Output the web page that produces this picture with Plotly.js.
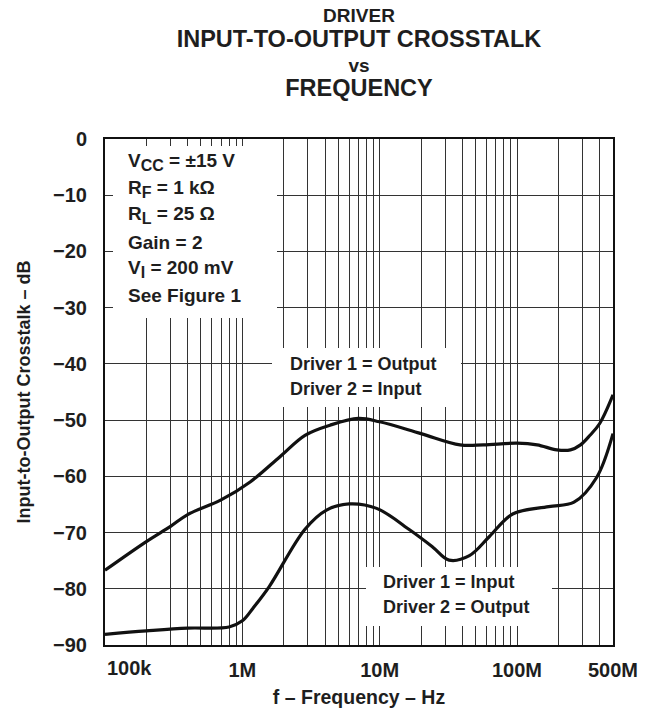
<!DOCTYPE html>
<html>
<head>
<meta charset="utf-8">
<script src="https://cdn.plot.ly/plotly-3.0.1.min.js"></script>
<style>html,body{margin:0;padding:0;background:#fff;}</style>
</head>
<body>
<div id="chart" style="width:650px;height:715px;"></div>
<script>
// ---- data ----
const freqUpper = [1e5, 2e5, 3e5, 4e5, 7e5, 1.14e6, 1.88e6, 2.86e6, 4.35e6, 7e6, 1e7, 2e7, 3.85e7, 5.7e7, 1e8, 1.4e8, 1.95e8, 2.45e8, 2.9e8, 3.4e8, 4e8, 5e8];
const upperDb = [-76.7, -71.6, -68.9, -66.8, -64.2, -61.0, -56.5, -52.7, -50.9, -49.7, -50.3, -52.4, -54.4, -54.4, -54.1, -54.4, -55.3, -55.3, -54.4, -52.7, -50.6, -45.5];

const freqLower = [1e5, 2e5, 4e5, 8e5, 1e6, 1.2e6, 1.57e6, 2.86e6, 4.1e6, 6e6, 9.5e6, 1.67e7, 2.44e7, 3.2e7, 4.5e7, 6.3e7, 9.3e7, 1.7e8, 2.6e8, 3.8e8, 5e8];
const lowerDb = [-88.1, -87.5, -87.0, -86.8, -85.7, -83.4, -79.6, -69.4, -66.0, -64.9, -65.7, -69.6, -72.6, -74.9, -74.1, -70.7, -66.7, -65.4, -64.6, -60.2, -52.4];

const xTickVals = [1e5, 1e6, 1e7, 1e8, 5e8];
const xTickText = ['100k', '1M', '10M', '100M', '500M'];
const yTickVals = [0, -10, -20, -30, -40, -50, -60, -70, -80, -90];

const SUB = s => '<sub><span style="font-size:16px">' + s + '</span></sub>';
const condLines = ['V' + SUB('CC') + ' = \u00B115 V', 'R' + SUB('F') + ' = 1 k\u03A9', 'R' + SUB('L') + ' = 25 \u03A9', 'Gain = 2', 'V' + SUB('I') + ' = 200 mV', 'See Figure 1'];
const label1Lines = ['Driver 1 = Output', 'Driver 2 = Input'];
const label2Lines = ['Driver 1 = Input', 'Driver 2 = Output'];

// ---- layout helpers ----
const FONT = 'Liberation Sans, Arial, Helvetica, sans-serif';
const INK = '#1e1e1e';
const L = 105, R = 613, T = 139, B = 645;
const px2x = p => (p - L) / (R - L);
const px2y = p => (B - p) / (B - T);

// minor grid positions (2..9 per decade)
const minorVals = [];
for (let d = 5; d <= 8; d++) for (let m = 2; m <= 9; m++) { const v = m * Math.pow(10, d); if (v < 5e8) minorVals.push(v); }

const gridColor = '#333';

const traces = [
  {x: freqUpper, y: upperDb, mode: 'lines', line: {color: '#111', width: 3.2, shape: 'spline', smoothing: 1}, hoverinfo: 'skip'},
  {x: freqLower, y: lowerDb, mode: 'lines', line: {color: '#111', width: 3.2, shape: 'spline', smoothing: 1}, hoverinfo: 'skip'}
];

const annotations = [];
// white masks behind the text blocks
const masks = [
  [113, 146, 277, 318],
  [272, 348, 461, 407],
  [366, 567, 552, 626]
];
masks.forEach(m => annotations.push({
  xref: 'paper', yref: 'paper', x: px2x(m[0]), y: px2y(m[1]),
  xanchor: 'left', yanchor: 'top', showarrow: false,
  text: ' ', width: m[2] - m[0], height: m[3] - m[1],
  bgcolor: '#ffffff', borderpad: 0, borderwidth: 0, font: {size: 2}
}));

function addBlock(lines, leftPx, firstCenterPx, spacing, size) {
  lines.forEach((t, i) => annotations.push({
    xref: 'paper', yref: 'paper', x: px2x(leftPx), y: px2y(firstCenterPx + i * spacing),
    xanchor: 'left', yanchor: 'middle', showarrow: false, align: 'left',
    text: t, font: {family: FONT, size: size, color: INK, weight: 700}
  }));
}
addBlock(condLines, 126, 162, 26.7, 19);
addBlock(label1Lines, 288, 364, 25, 18);
addBlock(label2Lines, 381, 582, 25, 18);

// first x tick label sits right of the axis start
annotations.push({
  xref: 'x', yref: 'paper', x: Math.log10(xTickVals[0]), y: px2y(668),
  xanchor: 'left', yanchor: 'middle', showarrow: false,
  text: xTickText[0], font: {family: FONT, size: 20, color: INK, weight: 700}
});
const shownTickText = xTickText.map((t, i) => i === 0 ? '' : t);

const layout = {
  width: 650, height: 715,
  margin: {l: L, r: 650 - R, t: T, b: 715 - B},
  paper_bgcolor: '#fff', plot_bgcolor: '#fff',
  showlegend: false,
  font: {family: FONT, color: INK, weight: 700},
  title: {
    text: 'DRIVER<br><span style="font-size:23.5px">INPUT-TO-OUTPUT CROSSTALK</span><br>vs<br><span style="font-size:23.5px">FREQUENCY</span>',
    font: {family: FONT, size: 19, color: INK, weight: 700},
    xref: 'paper', x: 0.5, xanchor: 'center',
    yref: 'container', y: 0.969, yanchor: 'top'
  },
  xaxis: {
    type: 'log', range: [5, Math.log10(5e8)],
    tickvals: xTickVals, ticktext: shownTickText, ticks: '',
    tickfont: {family: FONT, size: 20, color: INK, weight: 700},
    ticklabelstandoff: 6,
    showgrid: true, gridcolor: gridColor, gridwidth: 1,
    minor: {tickvals: minorVals, showgrid: true, gridcolor: gridColor, gridwidth: 1, ticks: ''},
    showline: true, mirror: true, linecolor: '#111', linewidth: 2,
    zeroline: false, fixedrange: true,
    title: {text: 'f \u2013 Frequency \u2013 Hz', font: {family: FONT, size: 19.5, color: INK, weight: 700}, standoff: 10}
  },
  yaxis: {
    range: [-90, 0], tickvals: yTickVals, ticks: '',
    tickfont: {family: FONT, size: 20, color: INK, weight: 700},
    ticklabelstandoff: 12,
    showgrid: true, gridcolor: gridColor, gridwidth: 1,
    showline: true, mirror: true, linecolor: '#111', linewidth: 2,
    zeroline: false, fixedrange: true,
    title: {text: 'Input-to-Output Crosstalk \u2013 dB', font: {family: FONT, size: 18, color: INK, weight: 700}, standoff: 18}
  },
  annotations: annotations
};

Plotly.newPlot('chart', traces, layout, {staticPlot: true, displayModeBar: false});
</script>
</body>
</html>
